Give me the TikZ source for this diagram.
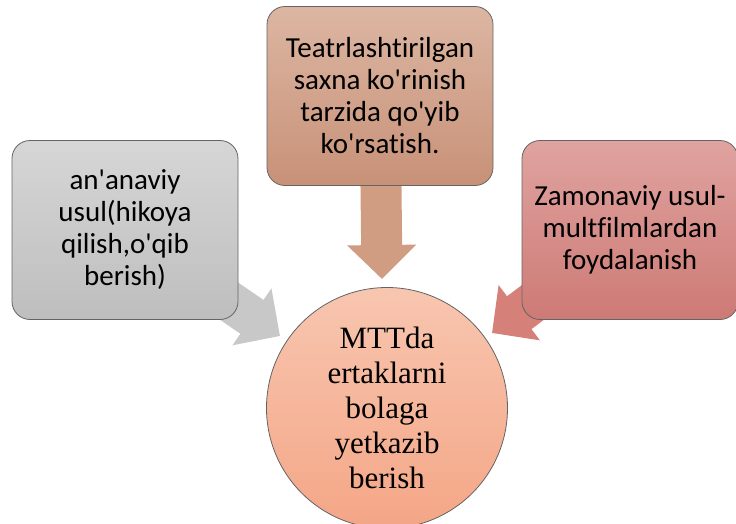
\documentclass[tikz,border=0pt]{standalone}
\usepackage{fontspec}
\setmainfont{Carlito}[Ligatures={TeXOff,CommonOff}]
\newfontfamily\timesfont{Liberation Serif}[Ligatures={TeXOff}]
\usetikzlibrary{arrows.meta,backgrounds}
\definecolor{boxline}{RGB}{100,100,100}
\definecolor{grayTop}{RGB}{214,214,214}
\definecolor{grayBot}{RGB}{190,190,190}
\definecolor{tanTop}{RGB}{220,182,162}
\definecolor{tanBot}{RGB}{200,145,120}
\definecolor{roseTop}{RGB}{224,163,160}
\definecolor{roseBot}{RGB}{205,122,117}
\definecolor{peachTop}{RGB}{248,198,176}
\definecolor{peachBot}{RGB}{244,166,134}
\definecolor{grayArr}{RGB}{200,200,200}
\definecolor{tanArr}{RGB}{208,156,130}
\definecolor{roseArr}{RGB}{214,128,122}
\tikzset{
  ideabox/.style={draw=boxline, line width=0.8pt, rounded corners=18pt,
    minimum width=226pt, minimum height=179pt, align=center,
    font=\fontsize{29}{32}\selectfont},
  bigarrow/.style={line width=41pt, -{Triangle[length=34pt,width=67pt]}}
}
\begin{document}
\begin{tikzpicture}[x=1pt, y=-1pt]
  \useasboundingbox (0,0) rectangle (736,523);
  \node[ideabox, top color=grayTop, bottom color=grayBot] (usual) at (125,230)
    {an'anaviy\\usul(hikoya\\qilish,o'qib\\berish)};
  \node[ideabox, top color=tanTop, bottom color=tanBot] (theatre) at (380,96)
    {Teatrlashtirilgan\\saxna ko'rinish\\tarzida qo'yib\\ko'rsatish.};
  \node[ideabox, minimum width=216pt, top color=roseTop, bottom color=roseBot] (modern) at (630,230)
    {Zamonaviy usul-\\multfilmlardan\\foydalanish};
  \node[circle, draw=boxline, line width=0.8pt, minimum size=241pt, align=center,
    top color=peachTop, bottom color=peachBot,
    font=\timesfont\fontsize{31}{35}\selectfont] (mtt) at (387,408)
    {MTTda\\ertaklarni\\bolaga\\yetkazib\\berish};
  \coordinate (usual_tip) at (280,336);
  \coordinate (theatre_tip) at (382,279);
  \coordinate (modern_tip) at (492,333);
  \begin{scope}[on background layer]
    \draw[bigarrow, grayArr] (usual.center) -- (usual_tip);
    \draw[bigarrow, tanArr] (theatre.center) -- (theatre_tip);
    \draw[bigarrow, roseArr] (modern.center) -- (modern_tip);
  \end{scope}
\end{tikzpicture}
\end{document}
